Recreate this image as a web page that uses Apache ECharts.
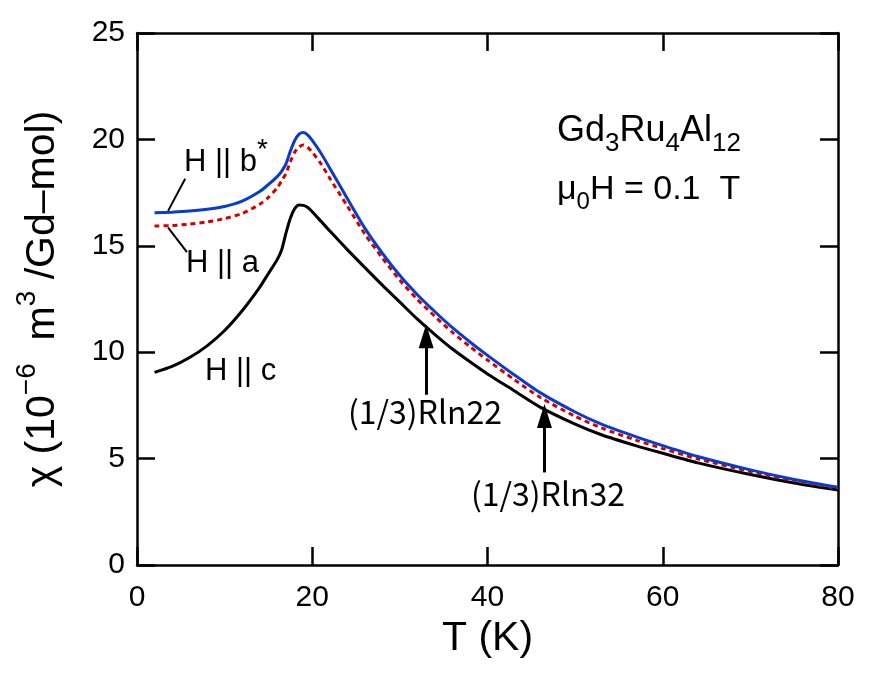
<!DOCTYPE html>
<html>
<head>
<meta charset="utf-8">
<script src="https://cdn.jsdelivr.net/npm/echarts@6/dist/echarts.min.js"></script>
<style>
  html, body { margin: 0; padding: 0; background: #fff; }
  #chart { width: 872px; height: 675px; }
</style>
</head>
<body>
<div id="chart"></div>
<script>
// temperature grid (K) shared by the three field directions
var temps = [2, 4, 6, 8, 10, 12, 14, 15, 16, 16.5, 17, 17.5, 18, 18.5, 19, 19.5, 20, 21, 22, 24, 26, 28, 30,
  32, 34, 36, 38, 40, 43, 46, 50, 53, 57, 60, 64, 70, 75, 80];
// chi (10^-6 m^3/Gd-mol)
var chiB = [16.55, 16.58, 16.63, 16.72, 16.85, 17.1, 17.55, 17.88, 18.25, 18.5, 18.85, 19.45, 19.95, 20.25, 20.33, 20.2,
  19.95, 19.35, 18.65, 17.22, 15.83, 14.65, 13.6, 12.7, 11.9, 11.15, 10.48, 9.85, 8.95, 8.1, 7.19, 6.62, 6.02, 5.61,
  5.1, 4.47, 4.02, 3.65];
var chiA = [15.93, 15.95, 16.02, 16.12, 16.28, 16.52, 16.95, 17.28, 17.72, 18.05, 18.4, 18.95, 19.4, 19.65, 19.74, 19.62,
  19.4, 18.85, 18.17, 16.87, 15.55, 14.43, 13.38, 12.48, 11.68, 10.93, 10.26, 9.63, 8.73, 7.88, 6.99, 6.44, 5.86, 5.47,
  4.99, 4.39, 3.96, 3.6];
var chiC = [9.05, 9.33, 9.75, 10.3, 11.02, 11.95, 13.05, 13.7, 14.35, 14.8, 15.6, 16.3, 16.75, 16.92, 16.9, 16.8,
  16.6, 16.15, 15.7, 14.82, 13.98, 13.15, 12.35, 11.55, 10.83, 10.15, 9.55, 8.98, 8.2, 7.42, 6.62, 6.12, 5.6, 5.25,
  4.8, 4.25, 3.85, 3.52];

// arrows: [T, chi bottom, chi tip]
var arrowRln22 = [33, 8.0, 10.75];
var arrowRln32 = [46.5, 4.35, 7.0];

function pairs(xs, ys) {
  return xs.map(function (x, i) { return [x, ys[i]]; });
}

var chart = echarts.init(document.getElementById("chart"), null, { renderer: "canvas" });

var FONT = "Liberation Sans, Arial, sans-serif";
var JFONT = "Noto Sans CJK JP, sans-serif";

var axisCommon = {
  axisLine: { show: true, onZero: false, lineStyle: { color: "#000", width: 2.5 } },
  axisTick: { show: true, inside: true, length: 18, lineStyle: { color: "#000", width: 2.5 } },
  splitLine: { show: false },
};

var option = {
  animation: false,
  backgroundColor: "#fff",
  grid: { left: 137, right: 34, top: 33, bottom: 110 },
  xAxis: [
    Object.assign({
      type: "value", min: 0, max: 80, interval: 20, position: "bottom",
      name: "T (K)", nameLocation: "middle", nameGap: 53,
      nameTextStyle: { color: "#000", fontSize: 41, fontFamily: FONT },
      axisLabel: { color: "#000", fontSize: 30, fontFamily: FONT, margin: 18 },
    }, axisCommon),
    Object.assign({
      type: "value", min: 0, max: 80, interval: 20, position: "top",
      axisLabel: { show: false },
    }, axisCommon),
  ],
  yAxis: [
    Object.assign({
      type: "value", min: 0, max: 25, interval: 5, position: "left",
      name: "χ (10{sup|−6}  m{sup|3} /Gd–mol)", nameLocation: "middle", nameGap: 64,
      nameTextStyle: {
        color: "#000", fontSize: 41, fontFamily: FONT,
        rich: { sup: { fontSize: 28, fontFamily: FONT, color: "#000", padding: [0, 0, 32, 0] } },
      },
      axisLabel: { color: "#000", fontSize: 30, fontFamily: FONT, margin: 12 },
    }, axisCommon),
    Object.assign({
      type: "value", min: 0, max: 25, interval: 5, position: "right",
      axisLabel: { show: false },
    }, axisCommon),
  ],
  series: [
    {
      name: "H || c", type: "line", smooth: 0.25, showSymbol: false, symbol: "none",
      data: pairs(temps, chiC),
      lineStyle: { color: "#000", width: 3 },
      markLine: {
        silent: true, animation: false,
        label: { show: false },
        lineStyle: { color: "#000", width: 3, type: "solid" },
        data: [
          [{ coord: [arrowRln22[0], arrowRln22[1]], symbol: "none" },
           { coord: [arrowRln22[0], arrowRln22[2]], symbol: "triangle", symbolSize: [15, 24] }],
          [{ coord: [arrowRln32[0], arrowRln32[1]], symbol: "none" },
           { coord: [arrowRln32[0], arrowRln32[2]], symbol: "triangle", symbolSize: [15, 24] }],
          // leader lines for the labels
          [{ coord: [3.55, 16.64], symbol: "none", lineStyle: { width: 2 } },
           { coord: [5.5, 18.15], symbol: "none" }],
          [{ coord: [3.55, 15.85], symbol: "none", lineStyle: { width: 2 } },
           { coord: [5.7, 14.7], symbol: "none" }],
        ],
      },
    },
    {
      name: "H || a", type: "line", smooth: 0.25, showSymbol: false, symbol: "none",
      data: pairs(temps, chiA),
      lineStyle: { color: "#d40000", width: 3, type: [5, 4] },
    },
    {
      name: "H || b*", type: "line", smooth: 0.25, showSymbol: false, symbol: "none",
      data: pairs(temps, chiB),
      lineStyle: { color: "#0a3ccc", width: 3 },
    },
  ],
  graphic: [
    {
      type: "text", x: 184, y: 162,
      style: {
        text: "H || b{s|*}", fontSize: 31, fontFamily: FONT, fill: "#000", verticalAlign: "middle",
        rich: { s: { fontSize: 28, fontFamily: FONT, padding: [0, 0, 24, 0] } },
      },
    },
    {
      type: "text", x: 186, y: 263,
      style: { text: "H || a", fontSize: 31, fontFamily: FONT, fill: "#000", verticalAlign: "middle" },
    },
    {
      type: "text", x: 205, y: 371,
      style: { text: "H || c", fontSize: 31, fontFamily: FONT, fill: "#000", verticalAlign: "middle" },
    },
    {
      type: "text", x: 557, y: 131,
      style: {
        text: "Gd{s|3}Ru{s|4}Al{s|12}", fontSize: 36, fontFamily: FONT, fill: "#000", verticalAlign: "middle",
        rich: { s: { fontSize: 26, fontFamily: FONT, padding: [26, 0, 0, 0] } },
      },
    },
    {
      type: "text", x: 557, y: 190,
      style: {
        text: "μ{s|0}H = 0.1  T", fontSize: 34, fontFamily: FONT, fill: "#000", verticalAlign: "middle",
        rich: { s: { fontSize: 24, fontFamily: FONT, padding: [24, 0, 0, 0] } },
      },
    },
    {
      type: "text", x: 425, y: 412,
      style: { text: "(1/3)Rln22", fontSize: 32, fontFamily: JFONT, fill: "#000", align: "center", verticalAlign: "middle" },
    },
    {
      type: "text", x: 548, y: 494,
      style: { text: "(1/3)Rln32", fontSize: 32, fontFamily: JFONT, fill: "#000", align: "center", verticalAlign: "middle" },
    },
  ],
};

chart.setOption(option);
</script>
</body>
</html>
